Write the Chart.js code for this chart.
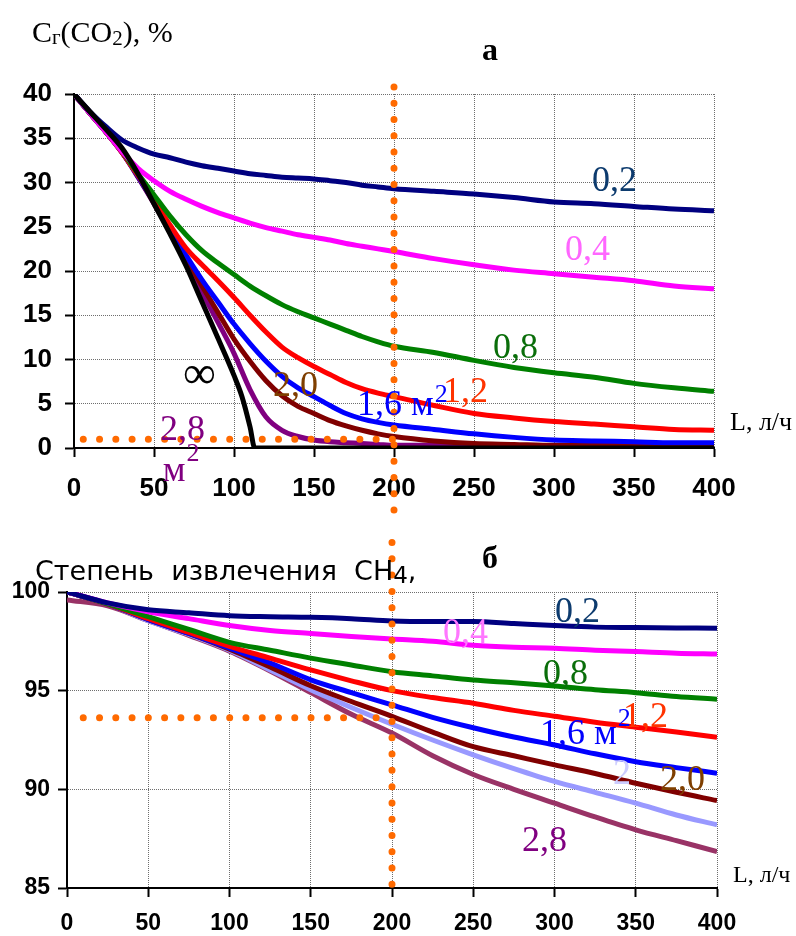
<!DOCTYPE html>
<html><head><meta charset="utf-8">
<script src="https://cdn.jsdelivr.net/npm/chart.js@4/dist/chart.umd.min.js"></script>
<style>
html,body{margin:0;padding:0;background:#fff;}
canvas{display:block;}
</style></head><body>
<canvas id="ca" width="796" height="520"></canvas>
<canvas id="cb" width="796" height="416"></canvas>
<script>
// ===== Chart а : Cг(CO2), % vs L, л/ч =====
const L_A = [0,10,20,30,40,50,60,70,80,90,100,110,120,130,140,150,160,170,180,190,200,225,250,275,300,325,350,375,400];
const navyA   = [40,38.0,36.3,34.8,33.9,33.2,32.8,32.3,31.9,31.6,31.3,31.0,30.8,30.6,30.5,30.4,30.2,30.0,29.7,29.5,29.3,29.0,28.7,28.3,27.8,27.6,27.3,27.0,26.8];
const pinkA   = [40,37.8,35.7,33.5,31.6,30.2,29.0,28.1,27.3,26.6,26.0,25.4,24.9,24.5,24.1,23.8,23.5,23.1,22.8,22.5,22.2,21.4,20.7,20.1,19.7,19.3,18.9,18.3,18.0];
const greenA  = [40,37.8,35.7,33.5,31.0,28.6,26.2,24.1,22.3,20.9,19.6,18.3,17.2,16.2,15.4,14.7,14.0,13.3,12.6,12.0,11.5,10.8,9.9,9.1,8.5,8.0,7.3,6.8,6.4];
const redA    = [40,37.8,35.7,33.4,30.8,28.0,25.2,22.6,20.7,18.9,17.0,15.0,13.1,11.4,10.2,9.2,8.3,7.4,6.7,6.2,5.8,4.8,3.9,3.4,3.0,2.7,2.4,2.1,2.0];
const blueA   = [40,37.8,35.7,33.4,30.7,27.8,24.8,21.8,19.0,16.5,14.0,11.8,9.8,8.1,6.8,5.8,4.8,3.9,3.3,2.9,2.6,2.1,1.6,1.2,0.9,0.8,0.7,0.6,0.6];
const brownA  = [40,37.8,35.7,33.4,30.7,27.7,24.6,21.4,18.3,15.3,12.3,9.8,7.6,5.9,4.7,3.9,3.1,2.5,2.0,1.6,1.3,0.8,0.5,0.4,0.3,0.3,0.3,0.3,0.3];
const purpleA = [40,37.8,35.7,33.4,30.6,27.6,24.4,21.0,17.6,14.2,10.7,6.6,3.5,2.0,1.3,0.9,0.7,0.6,0.5,0.4,0.3,0.3,0.2,0.2,0.2,0.2,0.2,0.2,0.2];
const infL = [0,10,20,30,40,50,60,70,80,90,100,105,110,113,400];
const infC = [40,38.0,36.0,33.9,31.0,27.6,24.2,20.6,16.5,12.4,8.2,5.8,2.4,0,0];
const refA_vx = [200,200], refA_vy = [40.8,-7.6];
const refA_hx = [5.8,200], refA_hy = [1.0,1.0];

// ===== Chart б : степень извлечения CH4 vs L, л/ч =====
const L_B = [0,25,50,75,100,125,150,175,200,225,250,275,300,325,350,375,400];
const navyB  = [100,99.45,99.1,98.95,98.8,98.75,98.72,98.65,98.53,98.5,98.5,98.4,98.3,98.22,98.2,98.18,98.16];
const pinkB  = [100,99.45,99.0,98.65,98.3,98.05,97.9,97.75,97.62,97.5,97.3,97.2,97.15,97.05,96.98,96.9,96.86];
const greenB = [100,99.4,98.75,98.1,97.45,97.05,96.65,96.3,95.96,95.75,95.54,95.4,95.24,95.05,94.9,94.7,94.57];
const redB   = [100,99.4,98.65,97.95,97.25,96.65,96.05,95.5,95.0,94.65,94.36,94.0,93.7,93.4,93.15,92.9,92.64];
const blueB  = [100,99.4,98.6,97.9,97.15,96.4,95.55,94.9,94.28,93.65,93.12,92.65,92.25,91.8,91.4,91.1,90.82];
const brownB = [100,99.4,98.6,97.9,97.1,96.2,95.25,94.45,93.7,92.9,92.16,91.7,91.24,90.8,90.31,89.85,89.43];
const lavB   = [100,99.4,98.55,97.85,97.05,96.05,95.05,94.15,93.3,92.5,91.75,91.05,90.4,89.85,89.3,88.7,88.2];
const mauveB = [99.6,99.3,98.55,97.8,97.0,96.0,94.9,93.8,92.85,91.7,90.75,90.0,89.3,88.6,87.95,87.4,86.85];
const refB_vx = [200,200], refB_vy = [85.19,103.31];
const refB_hx = [10.0,200], refB_hy = [93.63,93.63];

// ===== series labels (anchor: left edge / vertical centre, in data units) =====
const labelsA = [
  {t:'0,2', L:323.75, v:30.4, color:'#0d3b6e'},
  {t:'0,4', L:306.9, v:22.6, color:'#ff66ff'},
  {t:'0,8', L:261.9, v:11.6, color:'#0a6e0a'},
  {t:'1,2', L:230.6, v:6.6, color:'#ff3300'},
  {t:'1,6 м', sup:'2', supRise:0.35, L:176.9, v:5.1, color:'#0000ff'},
  {t:'2,0', L:124.4, v:7.2, color:'#7f3f00'},
  {t:'∞', L:68.1, v:8.5, color:'#000000', size:46},
  {t:'2,8', L:53.75, v:2.3, color:'#800080'},
  {t:'м', sup:'2', supRise:0.55, L:55.5, v:-2.3, color:'#800080'}
];
const labelsB = [
  {t:'0,2', L:300.3, v:99.09, color:'#0d3b6e'},
  {t:'0,4', L:231.4, v:98.03, color:'#ff77ff'},
  {t:'0,8', L:292.9, v:95.95, color:'#0a6e0a'},
  {t:'1,2', L:342.2, v:93.77, color:'#ff3300'},
  {t:'1,6 м', sup:'2', supRise:0.5, L:291.1, v:92.93, color:'#0000ff'},
  {t:'2', L:336, v:90.89, color:'#ccccff'},
  {t:'2,0', L:364.9, v:90.57, color:'#7f3f00'},
  {t:'2,8', L:280, v:87.51, color:'#800080'}
];

const SERIF = '"Liberation Serif","Times New Roman",serif';
const ARIAL = '"Liberation Sans",Arial,sans-serif';
const DEJA = '"DejaVu Sans",Verdana,sans-serif';
const ORANGE = '#ff6a00';

function pts(xs, ys){ return xs.map((x,i)=>({x:x, y:ys[i]})); }
function series(xs, ys, color, w){
  return {data:pts(xs,ys), borderColor:color, backgroundColor:color, borderWidth:w, pointRadius:0, fill:false, cubicInterpolationMode:'monotone', borderJoinStyle:'round'};
}
function dots(xs, ys){
  return {data:pts(xs,ys), borderColor:ORANGE, backgroundColor:ORANGE, borderWidth:7, borderDash:[0,16.27], borderCapStyle:'round', pointRadius:0, fill:false, tension:0, clip:false};
}

function drawRuns(ctx, runs, x, y, align){
  let total = 0;
  for (const r of runs){ ctx.font = r.font; total += ctx.measureText(r.t).width; }
  let cx = align === 'center' ? x - total/2 : x;
  ctx.textAlign = 'left'; ctx.textBaseline = 'alphabetic';
  for (const r of runs){
    ctx.font = r.font; ctx.fillStyle = r.color || '#000';
    ctx.fillText(r.t, cx, y + (r.dy || 0));
    cx += ctx.measureText(r.t).width;
  }
}

function textPlugin(fixed, labels){
  return {
    id:'texts',
    afterDatasetsDraw(chart){
      const ctx = chart.ctx, xs = chart.scales.x, ys = chart.scales.y;
      ctx.save();
      for (const f of fixed) drawRuns(ctx, f.runs, f.x, f.y, f.align);
      for (const lb of labels){
        const size = lb.size || 36;
        const px = xs.getPixelForValue(lb.L), py = ys.getPixelForValue(lb.v);
        const base = py + 0.338*size;
        ctx.textAlign = 'left'; ctx.textBaseline = 'alphabetic';
        ctx.font = size + 'px ' + SERIF; ctx.fillStyle = lb.color;
        ctx.fillText(lb.t, px, base);
        if (lb.sup){
          const w = ctx.measureText(lb.t).width;
          ctx.font = Math.round(size*0.72) + 'px ' + SERIF;
          ctx.fillText(lb.sup, px + w + 1, base - lb.supRise*size);
        }
      }
      ctx.restore();
    }
  };
}

function scales(xmin,xmax,ymin,ymax,fontSize,xPad,yPad,yWidth,xHeight){
  const grid = {color:'#6e6e6e', lineWidth:1, tickLength:9, tickColor:'#000', tickWidth:2, tickBorderDash:[]};
  const border = {color:'#000', width:2, dash:[1,1]};
  return {
    x:{type:'linear', min:xmin, max:xmax,
       ticks:{stepSize:50, color:'#000', font:{family:ARIAL, size:fontSize, weight:'bold'}, padding:xPad, maxRotation:0, autoSkip:false},
       grid:grid, border:border, afterFit(s){ s.height = xHeight; }},
    y:{type:'linear', min:ymin, max:ymax,
       ticks:{stepSize:5, color:'#000', font:{family:ARIAL, size:fontSize, weight:'bold'}, padding:yPad},
       grid:grid, border:border, afterFit(s){ s.width = yWidth; }}
  };
}

const fixedA = [
  {x:490, y:60, align:'center', runs:[{t:'а', font:'bold 32px '+SERIF}]},
  {x:32, y:42, runs:[
    {t:'C', font:'30px '+SERIF},
    {t:'г', font:'21px '+SERIF, dy:2},
    {t:'(CO', font:'30px '+SERIF},
    {t:'2', font:'21px '+SERIF, dy:3},
    {t:'), %', font:'30px '+SERIF}]},
  {x:730, y:430, runs:[{t:'L, л/ч', font:'26px '+SERIF}]}
];
const fixedB = [
  {x:490, y:48, align:'center', runs:[{t:'б', font:'bold 32px '+SERIF}]},
  {x:35, y:60, runs:[
    {t:'Степень  извлечения  CH', font:'27px '+DEJA},
    {t:'4', font:'23px '+DEJA, dy:3},
    {t:',', font:'27px '+DEJA}]},
  {x:733, y:362, runs:[{t:'L, л/ч', font:'24px '+SERIF}]}
];

const common = {responsive:false, animation:false, devicePixelRatio:1,
  plugins:{legend:{display:false}, tooltip:{enabled:false}}, events:[]};

new Chart(document.getElementById('ca'), {
  type:'line',
  data:{datasets:[
    dots(refA_vx, refA_vy),
    dots(refA_hx, refA_hy),
    series(infL, infC, '#000000', 5),
    series(L_A, navyA, '#000080', 5),
    series(L_A, pinkA, '#ff00ff', 5),
    series(L_A, greenA, '#008000', 5),
    series(L_A, redA, '#ff0000', 5),
    series(L_A, blueA, '#0000ff', 5),
    series(L_A, brownA, '#800000', 5),
    series(L_A, purpleA, '#800080', 5)
  ]},
  options:Object.assign({}, common, {
    layout:{padding:{top:94, right:82, left:0, bottom:0}},
    scales:scales(0,400,0,40,26,16,13,74,72)
  }),
  plugins:[textPlugin(fixedA, labelsA)]
});

new Chart(document.getElementById('cb'), {
  type:'line',
  data:{datasets:[
    dots(refB_vx, refB_vy),
    dots(refB_hx, refB_hy),
    series(L_B, navyB, '#000080', 5),
    series(L_B, pinkB, '#ff00ff', 5),
    series(L_B, greenB, '#008000', 5),
    series(L_B, redB, '#ff0000', 5),
    series(L_B, blueB, '#0000ff', 5),
    series(L_B, brownB, '#800000', 5),
    series(L_B, lavB, '#9999ff', 5),
    series(L_B, mauveB, '#993366', 5)
  ]},
  options:Object.assign({}, common, {
    layout:{padding:{top:72, right:79, left:0, bottom:0}},
    scales:scales(0,400,85,100,23,13,8,67,48)
  }),
  plugins:[textPlugin(fixedB, labelsB)]
});
</script>
</body></html>
